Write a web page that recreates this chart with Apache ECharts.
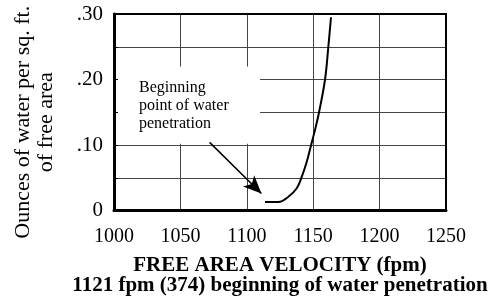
<!DOCTYPE html>
<html>
<head>
<meta charset="utf-8">
<title>Water penetration</title>
<script src="https://cdn.jsdelivr.net/npm/echarts@6/dist/echarts.min.js"></script>
<style>
  html, body { margin: 0; padding: 0; background: #fff; }
  #chart { width: 494px; height: 301px; }
</style>
</head>
<body>
<div id="chart"></div>
<script>
// curve
const velocity = [1113.7, 1123.7, 1131.3, 1137.6, 1141.3, 1145.1, 1148.3, 1151.6, 1154.4, 1158.9, 1161.4, 1163.4];
const ounces   = [0.013, 0.013, 0.021, 0.034, 0.051, 0.074, 0.099, 0.125, 0.150, 0.200, 0.250, 0.295];

// annotation box, text and arrow, in data units
const noteBox = [[1000, 0.102], [1110, 0.22]];
const noteAt = [1018.8, 0.160];
const noteText = ['Beginning', 'point of water', 'penetration'];
const arrowFrom = [1072, 0.104];
const arrowTo = [1111, 0.026];

const yTickLabels = { '0': '0', '0.1': '.10', '0.2': '.20', '0.3': '.30' };

const serif = '"Liberation Serif", "DejaVu Serif", serif';

const chart = echarts.init(document.getElementById('chart'));

const baseY = {
  type: 'value', min: 0, max: 0.3, interval: 0.05
};

chart.setOption({
  animation: false,
  grid: {
    left: 114, right: 48, top: 14, bottom: 89,
    show: true, borderColor: '#000', borderWidth: 2, z: 10
  },
  xAxis: [{
    type: 'value', min: 1000, max: 1250, interval: 50,
    axisLine: { show: true, lineStyle: { color: '#000', width: 3 } },
    axisTick: { show: false },
    splitLine: { show: true, lineStyle: { color: '#444', width: 1 } },
    axisLabel: {
      color: '#000', fontFamily: serif, fontSize: 20, margin: 16,
      formatter: v => String(v)
    },
    name: 'FREE AREA VELOCITY (fpm)\n1121 fpm (374) beginning of water penetration',
    nameLocation: 'middle',
    nameGap: 45,
    nameTextStyle: { color: '#000', fontFamily: serif, fontSize: 21, fontWeight: 'bold', lineHeight: 20, verticalAlign: 'top' }
  }],
  yAxis: [
    Object.assign({}, baseY, {
      z: 0,
      axisLine: { show: false },
      axisTick: { show: false },
      axisLabel: { show: false },
      splitLine: { show: true, lineStyle: { color: '#444', width: 1 } }
    }),
    Object.assign({}, baseY, {
      z: 5,
      position: 'left',
      axisLine: { show: true, onZero: false, lineStyle: { color: '#000', width: 3 } },
      axisTick: { show: true, inside: true, length: 4, lineStyle: { color: '#000' } },
      splitLine: { show: false },
      axisLabel: {
        color: '#000', fontFamily: serif, fontSize: 21, margin: 11,
        formatter: function (v) {
          const k = String(Math.round(v * 100) / 100);
          return yTickLabels[k] !== undefined ? yTickLabels[k] : '';
        }
      },
      name: 'Ounces of water per sq. ft.\nof free area',
      nameLocation: 'middle',
      nameGap: 56,
      nameTextStyle: { color: '#000', fontFamily: serif, fontSize: 22, lineHeight: 23, align: 'center', padding: [0, 0, 0, -20] }
    })
  ],
  series: [
    {
      type: 'line',
      z: 2,
      data: [],
      markArea: {
        silent: true,
        itemStyle: { color: '#fff', opacity: 1 },
        label: { show: false },
        data: [[{ coord: noteBox[0] }, { coord: noteBox[1] }]]
      },
      markPoint: {
        silent: true,
        symbol: 'circle',
        symbolSize: 0,
        label: {
          show: true,
          position: 'right',
          distance: 0,
          align: 'left',
          color: '#000',
          fontFamily: serif,
          fontSize: 16,
          lineHeight: 18,
          formatter: noteText.join('\n')
        },
        data: [{ coord: noteAt }]
      }
    },
    {
      type: 'line',
      z: 6,
      data: velocity.map((v, i) => [v, ounces[i]]),
      smooth: 0.4,
      showSymbol: false,
      lineStyle: { color: '#000', width: 2 },
      markLine: {
        silent: true,
        symbol: ['none', 'arrow'],
        symbolSize: [12, 18],
        label: { show: false },
        lineStyle: { color: '#000', width: 1.5, type: 'solid' },
        data: [[{ coord: arrowFrom }, { coord: arrowTo }]]
      }
    }
  ]
});
</script>
</body>
</html>
